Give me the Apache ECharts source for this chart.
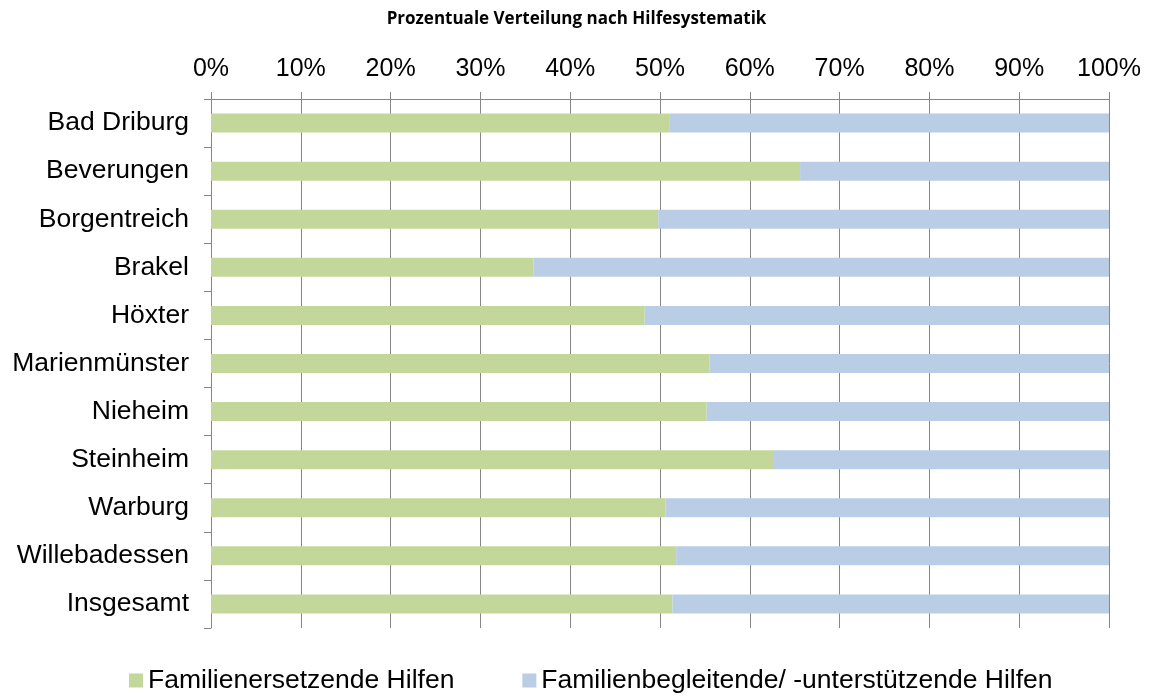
<!DOCTYPE html>
<html>
<head>
<meta charset="utf-8">
<script src="https://cdn.jsdelivr.net/npm/echarts@6/dist/echarts.min.js"></script>
<style>
  html, body { margin: 0; padding: 0; background: #fff; }
  #chart { width: 1153px; height: 697px; }
</style>
</head>
<body>
<div id="chart"></div>
<script>
// Daten
const categories = ["Bad Driburg", "Beverungen", "Borgentreich", "Brakel", "Höxter",
  "Marienmünster", "Nieheim", "Steinheim", "Warburg", "Willebadessen", "Insgesamt"];
const seriesNames = ["Familienersetzende Hilfen", "Familienbegleitende/ -unterstützende Hilfen"];
const ersetzend = [51.1, 65.6, 49.8, 35.9, 48.3, 55.5, 55.2, 62.7, 50.6, 51.8, 51.4];
const begleitend = [48.9, 34.4, 50.2, 64.1, 51.7, 44.5, 44.8, 37.3, 49.4, 48.2, 48.6];

const myChart = echarts.init(document.getElementById("chart"));
const option = {
  animation: false,
  title: {
    text: "Prozentuale Verteilung nach Hilfesystematik",
    left: "center",
    top: 6,
    textStyle: { fontFamily: "Open Sans", fontWeight: "bold", fontSize: 17, color: "#000" }
  },
  grid: { left: 211, right: 44, top: 99, bottom: 69 },
  legend: {
    data: seriesNames,
    left: 124,
    top: 662,
    itemWidth: 14,
    itemHeight: 14,
    itemGap: 68,
    icon: "rect",
    textStyle: { fontFamily: "Liberation Sans", fontSize: 26.5, color: "#000" }
  },
  xAxis: {
    type: "value",
    position: "top",
    min: 0,
    max: 100,
    interval: 10,
    axisLine: { show: true, lineStyle: { color: "#868686" } },
    axisTick: { show: true, length: 7, lineStyle: { color: "#868686" } },
    splitLine: { show: true, lineStyle: { color: "#868686", width: 1 } },
    axisLabel: {
      formatter: "{value}%",
      fontFamily: "Liberation Sans",
      fontSize: 25,
      color: "#000",
      margin: 17
    }
  },
  yAxis: {
    type: "category",
    inverse: true,
    data: categories,
    axisLine: { show: true, lineStyle: { color: "#868686" } },
    axisTick: { show: true, length: 7, lineStyle: { color: "#868686" } },
    axisLabel: { fontFamily: "Liberation Sans", fontSize: 26.5, color: "#000", margin: 22 }
  },
  series: [
    {
      name: seriesNames[0],
      type: "bar",
      stack: "total",
      barWidth: 19,
      data: ersetzend,
      itemStyle: { color: "#c4d79b" }
    },
    {
      name: seriesNames[1],
      type: "bar",
      stack: "total",
      barWidth: 19,
      data: begleitend,
      itemStyle: { color: "#b9cde5" }
    }
  ]
};
myChart.setOption(option);
</script>
</body>
</html>
